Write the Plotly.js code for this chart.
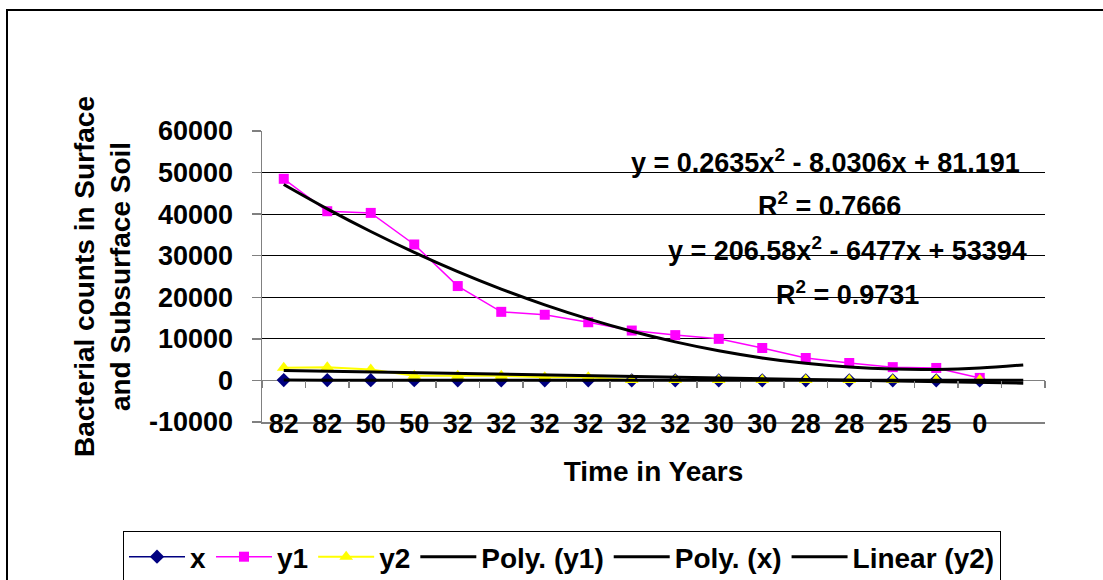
<!DOCTYPE html>
<html>
<head>
<meta charset="utf-8">
<script src="https://cdn.plot.ly/plotly-3.0.1.min.js"></script>
<style>
  html, body { margin: 0; padding: 0; background: #fff; }
  #wrap { position: relative; width: 1103px; height: 580px; overflow: hidden; }
  #chart { position: absolute; left: 0; top: 0; width: 1103px; height: 580px; }
  #frame { position: absolute; left: 6px; top: 9px; width: 1200px; height: 700px;
           border-left: 2px solid #000; border-top: 2px solid #000; pointer-events: none; }
</style>
</head>
<body>
<div id="wrap">
  <div id="chart"></div>
  <div id="frame"></div>
</div>
<script>
// ---- data ----
const categories = ['82','82','50','50','32','32','32','32','32','32','30','30','28','28','25','25','0'];
const seriesX  = [82,82,50,50,32,32,32,32,32,32,30,30,28,28,25,25,0];
const seriesY1 = [48500,40700,40300,32700,22700,16500,15800,14000,12000,10900,10000,7800,5400,4200,3200,3000,600];
const seriesY2 = [3060,3150,2600,1100,1100,1150,750,750,100,100,100,100,100,100,100,100,100];
// trend lines (extend one category past the data, as in the reference)
const polyY1Trend = [47124,41266,35822,30791,26174,21969,18177,14799,11834,9282,7143,5418,4105,3206,2720,2646,2987,3740];
const polyXTrend  = [73.4,66.2,59.5,53.3,47.6,42.5,37.9,33.8,30.3,27.2,24.7,22.8,21.3,20.4,20.0,20.2,20.8,22.0];
const linearY2Ends = [2400,-650];
const equationTexts = ['y = 0.2635x<sup>2</sup> - 8.0306x + 81.191','R<sup>2</sup> = 0.7666',
                       'y = 206.58x<sup>2</sup> - 6477x + 53394','R<sup>2</sup> = 0.9731'];
const yTicks = [-10000,0,10000,20000,30000,40000,50000,60000];
const yTickText = ['-10000','0','10000','20000','30000','40000','50000','60000'];

// ---- positions on the category axis ----
const idx = categories.map((c, i) => i + 1);
const trendIdx = polyY1Trend.map((v, i) => i + 1);
const nSlots = trendIdx.length;
const bounds = Array.from({length: nSlots + 1}, (_, i) => i + 0.5);
const xRange = [0.5, nSlots + 0.5];
const yRange = [yTicks[0], yTicks[yTicks.length - 1]];

const FONT = 'Liberation Sans, Arial, Helvetica, sans-serif';
const bold = (s) => ({family: FONT, size: s, color: '#000', weight: 'bold'});

const traces = [
  {name: 'x', x: idx, y: seriesX, mode: 'lines+markers', type: 'scatter',
   line: {color: '#000080', width: 1.5}, marker: {symbol: 'diamond', size: 11, color: '#000080'}},
  {name: 'y1', x: idx, y: seriesY1, mode: 'lines+markers', type: 'scatter',
   line: {color: '#FF00FF', width: 1.5}, marker: {symbol: 'square', size: 10, color: '#FF00FF'}},
  {name: 'y2', x: idx, y: seriesY2, mode: 'lines+markers', type: 'scatter',
   line: {color: '#FFFF00', width: 2}, marker: {symbol: 'triangle-up', size: 12, color: '#FFFF00'}},
  {name: 'Poly. (y1)', x: trendIdx, y: polyY1Trend, mode: 'lines', type: 'scatter',
   line: {color: '#000', width: 3, shape: 'spline'}},
  {name: 'Poly. (x)', x: trendIdx, y: polyXTrend, mode: 'lines', type: 'scatter',
   line: {color: '#000', width: 3, shape: 'spline'}},
  {name: 'Linear (y2)', x: [trendIdx[0], trendIdx[nSlots - 1]], y: linearY2Ends, mode: 'lines', type: 'scatter',
   line: {color: '#000', width: 3}},
  // helper (empty) traces so the overlay axes get drawn
  {x: [], y: [], xaxis: 'x2', yaxis: 'y', showlegend: false, hoverinfo: 'skip', type: 'scatter'},
  {x: [], y: [], xaxis: 'x3', yaxis: 'y', showlegend: false, hoverinfo: 'skip', type: 'scatter'}
];

const eqPos = [[0.7203, 0.897], [0.7248, 0.750], [0.7484, 0.5945], [0.7478, 0.443]];
const annotations = equationTexts.map((t, i) => ({
  text: t, xref: 'paper', yref: 'paper', x: eqPos[i][0], y: eqPos[i][1],
  xanchor: 'center', yanchor: 'middle', showarrow: false, font: bold(27)
}));

const layout = {
  width: 1103, height: 580,
  margin: {l: 262, r: 58, t: 131, b: 158, autoexpand: false},
  paper_bgcolor: '#fff', plot_bgcolor: '#fff',
  showlegend: true,
  legend: {
    orientation: 'h', xref: 'paper', yref: 'paper',
    x: (123 - 262) / 783, y: (422 - 531) / 291, xanchor: 'left', yanchor: 'top',
    bordercolor: '#000', borderwidth: 1, bgcolor: '#fff',
    font: bold(28), itemwidth: 56, traceorder: 'normal'
  },
  xaxis: {
    range: xRange, showline: true, linecolor: '#808080', linewidth: 1.5,
    ticks: '', showticklabels: false, showgrid: false, zeroline: false,
    title: {text: 'Time in Years', font: bold(28), standoff: 39}
  },
  xaxis2: {
    overlaying: 'x', anchor: 'free', position: 0.059, range: xRange,
    tickmode: 'array', tickvals: idx, ticktext: categories,
    ticks: '', showline: false, showgrid: false, zeroline: false,
    tickfont: bold(27)
  },
  xaxis3: {
    overlaying: 'x', anchor: 'free', position: (0 - yRange[0]) / (yRange[1] - yRange[0]), range: xRange,
    tickmode: 'array', tickvals: bounds, ticks: 'outside', ticklen: 7, tickwidth: 1.5, tickcolor: '#808080',
    showticklabels: false, showline: false, showgrid: false, zeroline: false
  },
  yaxis: {
    range: yRange, tickmode: 'array', tickvals: yTicks, ticktext: yTickText,
    showline: true, linecolor: '#808080', linewidth: 1.5,
    ticks: 'outside', ticklen: 9, tickwidth: 1.5, tickcolor: '#808080', ticklabelstandoff: 13,
    showgrid: true, gridcolor: '#000', gridwidth: 1,
    zeroline: true, zerolinecolor: '#808080', zerolinewidth: 1.5,
    tickfont: bold(27),
    title: {text: 'Bacterial counts in Surface<br>and Subsurface Soil', font: bold(28), standoff: 10}
  },
  annotations: annotations
};

Plotly.newPlot('chart', traces, layout, {staticPlot: true, displayModeBar: false});
</script>
</body>
</html>
